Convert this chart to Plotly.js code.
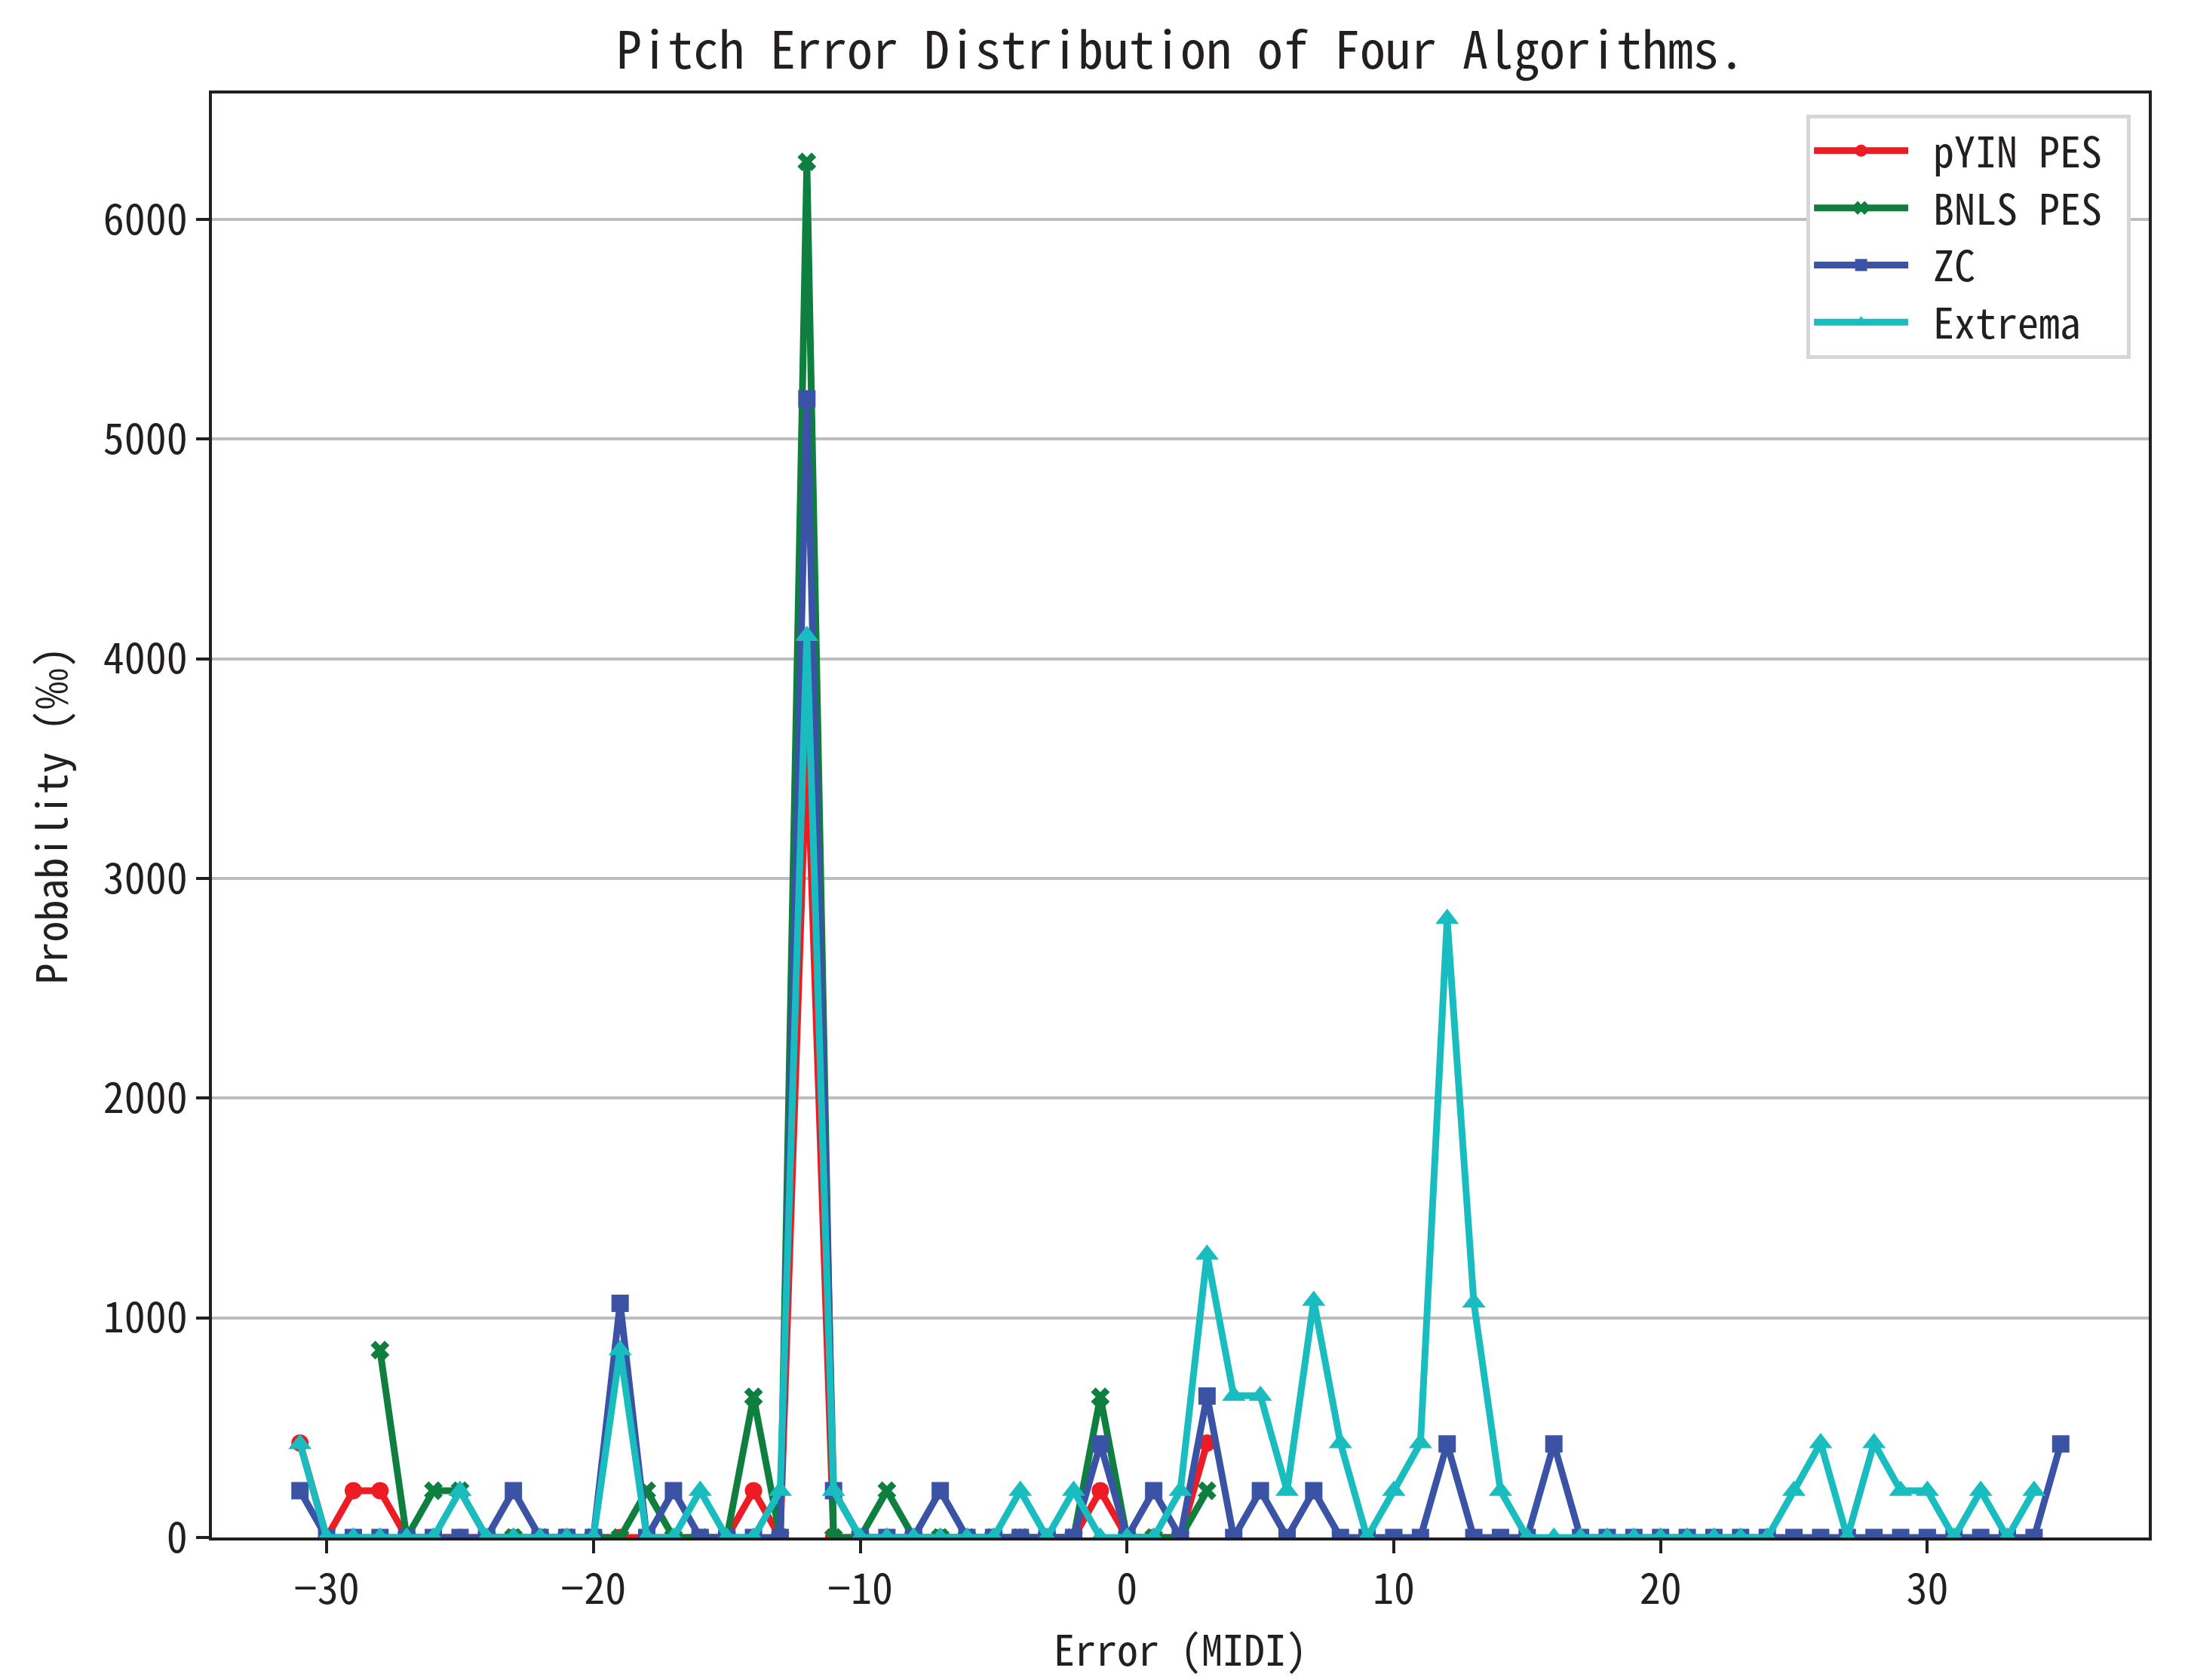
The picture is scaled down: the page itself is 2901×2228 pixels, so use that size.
<!DOCTYPE html>
<html>
<head>
<meta charset="utf-8">
<script src="https://cdn.plot.ly/plotly-3.0.1.min.js"></script>
<style>
  body { margin: 0; background: #fff; }
  #chart { width: 2901px; height: 2228px; }
</style>
</head>
<body>
<div id="chart"></div>
<script>
// error in MIDI semitones, probability in per mille
var pyinX = [-31,-30,-29,-28,-27,-26,-25,-24,-23,-22,-21,-20,-19,-18,-17,-16,-15,-14,-13,-12,-11,-10,-9,-8,-7,-6,-5,-4,-3,-2,-1,0,1,2,3];
var pyinY = [430,0,213,213,0,0,0,0,0,0,0,0,0,0,0,0,0,213,0,3626,0,0,0,0,0,0,0,0,0,0,213,0,0,0,430];

var bnlsX = [-28,-27,-26,-25,-24,-23,-22,-21,-20,-19,-18,-17,-16,-15,-14,-13,-12,-11,-10,-9,-8,-7,-6,-5,-4,-3,-2,-1,0,1,2,3];
var bnlsY = [853,0,213,213,0,0,0,0,0,0,213,0,0,0,640,0,6262,0,0,213,0,0,0,0,0,0,0,640,0,0,0,213];

var zcX = [-31,-30,-29,-28,-27,-26,-25,-24,-23,-22,-21,-20,-19,-18,-17,-16,-15,-14,-13,-12,-11,-10,-9,-8,-7,-6,-5,-4,-3,-2,-1,0,1,2,3,4,5,6,7,8,9,10,11,12,13,14,15,16,17,18,19,20,21,22,23,24,25,26,27,28,29,30,31,32,33,34,35];
var zcY = [213,0,0,0,0,0,0,0,213,0,0,0,1066,0,213,0,0,0,0,5183,213,0,0,0,213,0,0,0,0,0,426,0,213,0,644,0,213,0,213,0,0,0,0,426,0,0,0,426,0,0,0,0,0,0,0,0,0,0,0,0,0,0,0,0,0,0,426];

var extX = [-31,-30,-29,-28,-27,-26,-25,-24,-23,-22,-21,-20,-19,-18,-17,-16,-15,-14,-13,-12,-11,-10,-9,-8,-7,-6,-5,-4,-3,-2,-1,0,1,2,3,4,5,6,7,8,9,10,11,12,13,14,15,16,17,18,19,20,21,22,23,24,25,26,27,28,29,30,31,32,33,34];
var extY = [426,0,0,0,0,0,213,0,0,0,0,0,853,0,0,213,0,0,213,4104,213,0,0,0,0,0,0,213,0,213,0,0,0,213,1288,645,645,213,1078,430,0,213,430,2816,1070,213,0,0,0,0,0,0,0,0,0,0,213,430,0,430,213,213,0,213,0,213];

var xTicks = [-30, -20, -10, 0, 10, 20, 30];
var yTicks = [0, 1000, 2000, 3000, 4000, 5000, 6000];

var FONT = "'Noto Sans Mono CJK SC', 'DejaVu Sans Mono', monospace";
var INK = '#231f20';
var PAD = '\u00a0';

function series(name, x, y, color, symbol, size) {
    return {
        name: PAD + name + PAD,
        x: x,
        y: y,
        type: 'scatter',
        mode: 'lines+markers',
        line: { color: color, width: 9 },
        marker: { color: color, symbol: symbol, size: size, line: { width: 0 } },
        cliponaxis: true
    };
}

var data = [
    series('pYIN PES', pyinX, pyinY, '#ed1c24', 'circle', 23),
    series('BNLS PES', bnlsX, bnlsY, '#0f7f3f', 'x', 22),
    series('ZC', zcX, zcY, '#3a53a4', 'square', 23),
    series('Extrema', extX, extY, '#19bdbf', 'triangle-up', 27)
];

var layout = {
    width: 2901,
    height: 2228,
    paper_bgcolor: '#fff',
    plot_bgcolor: '#fff',
    font: { family: FONT, color: INK, size: 56 },
    margin: { l: 281, r: 52, t: 124, b: 189 },
    title: {
        text: 'Pitch Error Distribution of Four Algorithms.',
        font: { family: FONT, size: 68, color: INK },
        x: 0.5395, xanchor: 'center',
        y: 0.970, yanchor: 'middle', yref: 'container'
    },
    xaxis: {
        range: [-34.3, 38.3],
        tickvals: xTicks,
        ticks: 'outside', ticklen: 17, tickwidth: 4, tickcolor: INK,
        showline: true, linewidth: 4, linecolor: INK, mirror: true,
        showgrid: false, zeroline: false,
        tickfont: { family: FONT, size: 56, color: INK }
    },
    yaxis: {
        range: [0, 6573],
        tickvals: yTicks,
        ticks: 'outside', ticklen: 17, tickwidth: 4, tickcolor: INK,
        showline: true, linewidth: 4, linecolor: INK, mirror: true,
        showgrid: true, gridcolor: '#bdbdbd', gridwidth: 4, zeroline: false,
        tickfont: { family: FONT, size: 56, color: INK },
        title: { text: 'Probability (‰)', font: { family: FONT, size: 56, color: INK }, standoff: 30 }
    },
    annotations: [{
        text: 'Error (MIDI)',
        xref: 'paper', yref: 'paper',
        x: 0.5, y: -0.076,
        xanchor: 'center', yanchor: 'middle',
        showarrow: false,
        font: { family: FONT, size: 56, color: INK }
    }],
    showlegend: true,
    legend: {
        x: 0.9907, xanchor: 'right',
        y: 0.9854, yanchor: 'top',
        bgcolor: '#fff',
        bordercolor: '#d6d6d6',
        borderwidth: 5,
        itemwidth: 125,
        font: { family: FONT, size: 56, color: INK }
    },
    hovermode: false
};

Plotly.newPlot('chart', data, layout, { displayModeBar: false, staticPlot: true });
</script>
</body>
</html>
